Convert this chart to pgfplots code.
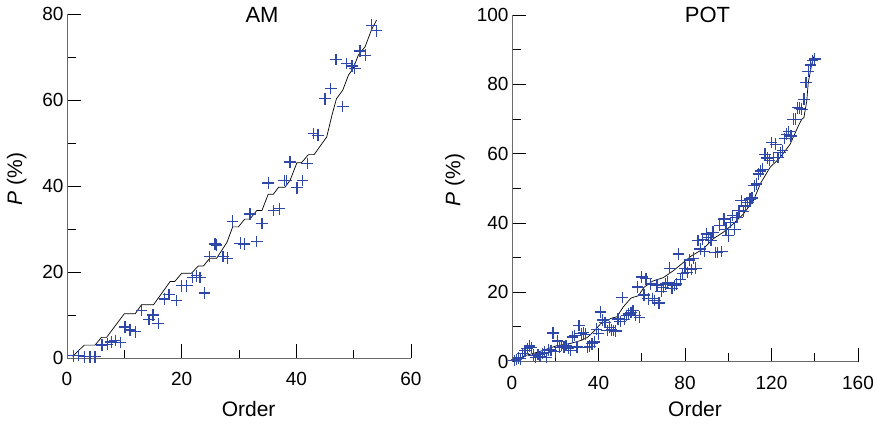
\documentclass[border=0pt]{standalone}
\usepackage{fontspec}
\setmainfont{Liberation Sans}
\usepackage{pgfplots}
\pgfplotsset{compat=1.18}

\definecolor{markblue}{RGB}{46,72,170}
\definecolor{axisgray}{RGB}{105,105,105}

% Observed plotting positions (crosses) and fitted curve (line)
\pgfplotstableread{
x y
1.1 0.5
2.0 0.6
3.1 0.3
4.0 0.3
4.9 0.3
6.1 3.0
7.0 3.2
7.7 3.7
8.4 4.1
9.3 3.6
10.1 7.2
11.0 6.5
11.9 6.1
13.0 11.1
14.3 9.0
15.0 10.0
15.9 8.0
17.0 13.7
17.8 14.8
19.1 13.4
20.0 16.8
20.9 16.8
21.9 18.7
22.6 19.1
23.2 18.7
24.0 15.1
24.9 23.6
25.8 26.5
26.1 26.3
27.2 23.6
28.0 23.2
28.9 31.8
30.2 26.7
30.9 26.5
31.9 33.5
33.1 27.1
34.0 31.3
35.1 40.7
36.0 34.3
37.0 34.7
37.9 41.3
38.3 41.3
38.9 45.6
40.1 39.6
41.1 41.3
41.9 45.2
43.0 52.2
43.8 51.8
45.0 60.3
46.0 62.7
46.9 69.4
48.1 58.5
48.8 68.5
49.7 67.9
50.2 67.3
51.1 71.4
52.0 70.4
53.1 77.4
54.0 76.1
}\amobs

\pgfplotstableread{
x y
1.0 0.2
1.4 0.9
3.0 3.0
4.9 3.0
6.0 4.8
6.9 4.8
10.0 10.3
11.9 10.3
13.0 12.4
15.1 12.4
18.0 17.8
18.8 17.8
20.0 19.7
21.7 19.7
22.9 21.4
23.8 21.4
24.9 23.2
26.1 23.2
27.9 26.9
28.9 30.5
29.9 30.5
31.0 32.3
31.9 32.3
33.1 34.3
34.0 34.3
35.1 38.1
36.0 38.1
36.9 39.7
38.0 39.7
38.9 41.3
40.1 45.4
40.9 45.4
42.1 47.3
43.1 47.3
45.3 51.4
46.2 56.4
47.0 60.3
48.1 62.3
49.1 65.8
49.9 67.3
50.8 70.4
52.0 72.4
53.1 76.3
54.0 78.6
}\amfit

\pgfplotstableread{
x y
1 0.3
2 0.6
3 1.0
4 0.8
5 2.3
6 3.1
7 3.7
8 4.5
9 4.0
10 1.8
11 1.1
12 2.0
13 1.4
14 2.3
15 2.7
16 1.2
17 3.3
18 3.2
19 8.2
20 2.8
21 5.9
22 4.1
23 4.6
24 4.2
25 4.6
26 3.8
27 3.2
28 7.1
29 7.5
30 4.2
31 10.4
32 8.0
33 8.3
34 7.9
35 4.1
36 4.4
37 5.1
38 5.6
39 9.3
40 8.0
41 14.3
42 12.0
43 11.2
44 8.9
45 9.9
46 9.1
47 8.9
48 8.8
49 12.3
50 11.5
51 18.5
52 12.1
53 13.3
54 13.7
55 14.2
56 14.7
57 13.3
58 21.5
59 12.8
60 24.4
61 19.2
62 24.0
63 18.1
64 22.4
65 18.2
66 17.6
67 22.1
68 16.9
69 20.2
70 21.4
71 22.4
72 22.9
73 26.9
74 21.1
75 21.9
76 22.4
77 31.0
78 23.6
79 25.4
80 26.9
81 25.7
82 29.3
83 26.5
84 29.8
85 26.9
86 34.9
87 32.5
88 35.3
89 31.7
90 36.8
91 35.8
92 34.9
93 37.3
94 31.5
95 31.5
96 39.2
97 31.8
98 41.1
99 38.2
100 36.3
101 40.1
102 42.1
103 38.2
104 41.6
105 43.5
106 46.4
107 43.3
108 44.9
109 45.9
110 46.9
111 47.2
112 50.7
113 51.2
114 54.1
115 55.0
116 55.5
117 59.8
118 58.7
119 58.1
120 63.2
121 58.9
122 62.7
123 58.9
124 60.3
125 60.8
126 64.4
127 65.6
128 66.4
129 65.1
130 69.9
131 69.9
132 73.2
133 73.1
134 72.8
135 75.7
136 80.5
137 83.8
138 85.6
139 86.9
140 87.3
}\potobs

\pgfplotstableread{
x y
0.5 0.0
2.0 0.4
6.0 1.7
12.0 2.7
17.0 3.8
21.0 4.6
27.0 5.2
32.0 6.1
35.0 7.0
38.0 8.8
41.0 10.9
46.0 12.5
48.5 12.9
51.5 15.8
55.0 18.3
58.5 19.0
61.0 21.4
65.0 23.2
70.0 24.2
74.6 26.2
78.5 28.2
83.0 30.5
88.5 32.5
93.0 35.4
97.7 37.3
102.3 39.7
107.0 42.6
111.6 46.4
115.0 51.5
119.3 56.0
124.0 58.9
128.6 62.7
132.4 68.0
134.0 69.9
135.0 70.4
136.3 75.2
137.0 80.5
138.6 85.8
139.5 88.0
}\potfit

\pgfplotsset{
  panel/.style={
    scale only axis,
    anchor=south west,
    axis x line*=bottom,
    axis y line*=left,
    axis line style={axisgray, line width=1pt},
    tick align=inside,
    major tick length=14pt,
    minor tick length=8.5pt,
    tick style={black, line width=0.8pt},
    minor tick num=1,
    ticklabel style={font=\fontsize{19}{22}\selectfont},
    xticklabel style={yshift=-11pt},
    /pgf/number format/assume math mode=true,
    label style={font=\fontsize{21}{24}\selectfont},
    title style={font=\fontsize{22}{26}\selectfont, anchor=center},
    xlabel={Order},
    ylabel={\textit{P} (\%)},
    clip=false,
  },
  obs/.style={only marks, mark=+, mark size=5.8pt, color=markblue, line width=1.25pt},
  fit/.style={black, line width=0.7pt, no markers, sharp plot},
}

\begin{document}
\begin{tikzpicture}
\useasboundingbox (0pt,0pt) rectangle (880pt,424pt);

\begin{axis}[panel,
  at={(67pt,66pt)}, width=344pt, height=344pt,
  xmin=0, xmax=60, ymin=0, ymax=80,
  xtick={0,20,40,60}, ytick={0,20,40,60,80},
  title={AM},
  title style={at={(axis description cs:0.567,0.98)}},
  xlabel style={at={(axis description cs:0.528,-0.148)}, anchor=center},
  ylabel style={at={(axis description cs:-0.146,0.52)}, anchor=center},
]
\addplot[fit] table {\amfit};
\addplot[obs] table {\amobs};
\end{axis}

\begin{axis}[panel,
  at={(512pt,62.5pt)}, width=346pt, height=346.5pt,
  xmin=0, xmax=160, ymin=0, ymax=100,
  xtick={0,40,80,120,160}, ytick={0,20,40,60,80,100},
  title={POT},
  title style={at={(axis description cs:0.565,0.983)}},
  xlabel style={at={(axis description cs:0.529,-0.137)}, anchor=center},
  ylabel style={at={(axis description cs:-0.165,0.524)}, anchor=center},
]
\addplot[fit] table {\potfit};
\addplot[obs] table {\potobs};
\end{axis}
\end{tikzpicture}
\end{document}
